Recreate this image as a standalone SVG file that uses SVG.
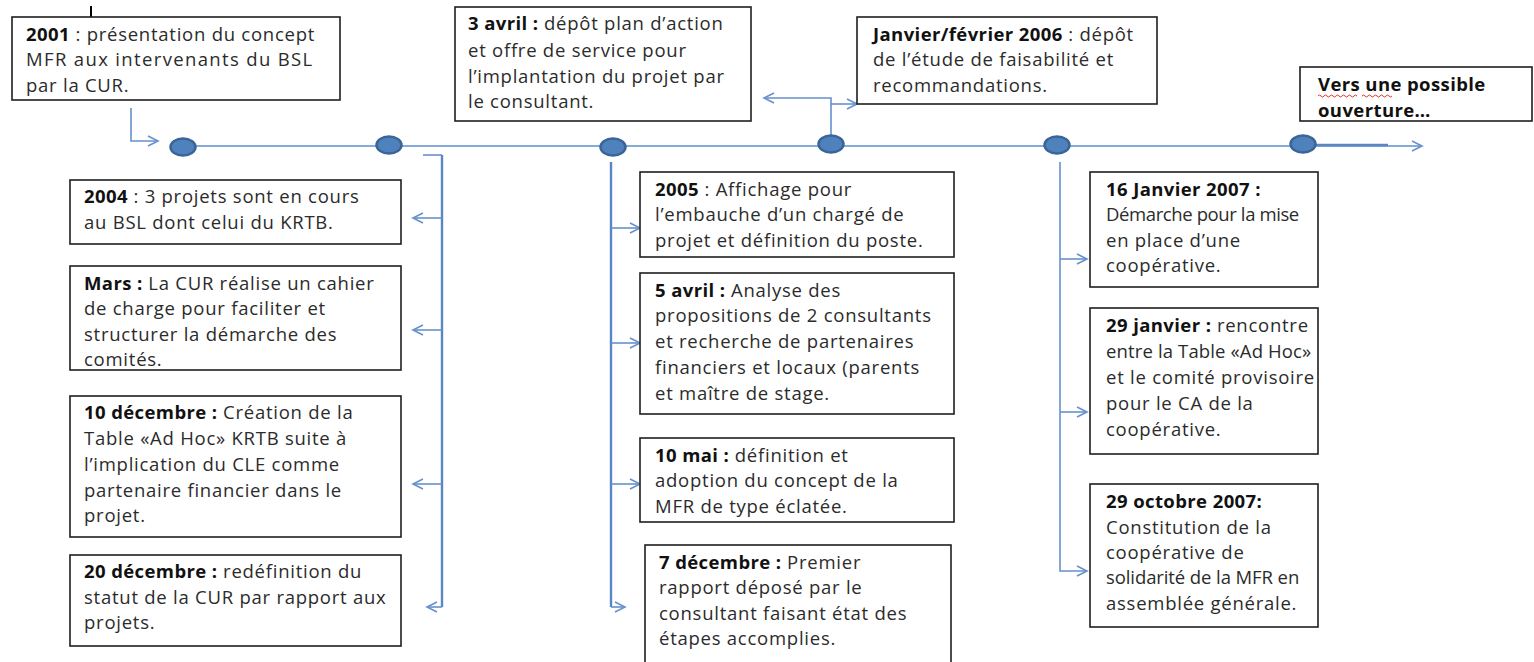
<svg xmlns="http://www.w3.org/2000/svg" width="1534" height="662" viewBox="0 0 1534 662">
  <style>
    .box { fill: #ffffff; stroke: #1f1f1f; stroke-width: 1.6; }
    .t { font-family: "Open Sans", Lato, "Liberation Sans", sans-serif; font-size: 18.5px; letter-spacing: 0.75px; fill: #2b2b2b; }
    .b { font-weight: bold; fill: #111111; letter-spacing: 0.4px; }
    .conn { fill: none; stroke: #6691cc; stroke-width: 1.6; }
    .spine { fill: none; stroke: #5a86c4; stroke-width: 2.4; }
    .axis { fill: none; stroke: #86aadb; stroke-width: 2.2; }
    .dot { fill: #4f81bd; stroke: #3a6598; stroke-width: 2.5; }
  </style>
  <defs>
    <marker id="open" markerUnits="userSpaceOnUse" markerWidth="14" markerHeight="14" refX="11" refY="6" orient="auto">
      <path d="M1,1 L11,6 L1,11" fill="none" stroke="#6691cc" stroke-width="1.6"/>
    </marker>
  </defs>
  <rect width="1534" height="662" fill="#ffffff"/>

  <!-- connectors -->
  <g id="connectors">
    <path class="axis" d="M183,146 H1422" marker-end="url(#open)"/>
    <path class="spine" d="M1310,145 H1388"/>
    <path class="conn" d="M131,108 V141 H158" marker-end="url(#open)"/>
    <!-- 2004 branch -->
    <path class="conn" d="M423,155 H442"/>
    <path class="spine" d="M442,155 V607"/>
    <path class="conn" d="M442,607 H427" marker-end="url(#open)"/>
    <path class="conn" d="M442,218 H413" marker-end="url(#open)"/>
    <path class="conn" d="M442,330 H413" marker-end="url(#open)"/>
    <path class="conn" d="M442,484 H413" marker-end="url(#open)"/>
    <!-- 2005 branch -->
    <path class="spine" d="M611,162 V607"/>
    <path class="conn" d="M611,607 H625" marker-end="url(#open)"/>
    <path class="conn" d="M611,228 H640" marker-end="url(#open)"/>
    <path class="conn" d="M611,343 H640" marker-end="url(#open)"/>
    <path class="conn" d="M611,484 H640" marker-end="url(#open)"/>
    <!-- 2006 fork -->
    <path class="conn" d="M831,136 V98 H764" marker-end="url(#open)"/>
    <path class="conn" d="M831,104 H857" marker-end="url(#open)"/>
    <!-- 2007 branch -->
    <path class="conn" d="M1060,162 V571 H1087" marker-end="url(#open)"/>
    <path class="conn" d="M1060,259 H1087" marker-end="url(#open)"/>
    <path class="conn" d="M1060,412 H1087" marker-end="url(#open)"/>
  </g>

  <!-- timeline points -->
  <g id="points">
    <ellipse class="dot" cx="183" cy="147" rx="12.5" ry="8.5"/>
    <ellipse class="dot" cx="389" cy="145" rx="12.5" ry="8.5"/>
    <ellipse class="dot" cx="613" cy="147" rx="12.5" ry="8.5"/>
    <ellipse class="dot" cx="831" cy="144" rx="12.5" ry="8.5"/>
    <ellipse class="dot" cx="1057" cy="145" rx="12.5" ry="8.5"/>
    <ellipse class="dot" cx="1303" cy="144" rx="12.5" ry="8.5"/>
  </g>

  <!-- text cursor -->
  <line x1="91" y1="6" x2="91" y2="30" stroke="#000000" stroke-width="2"/>

  <g id="n2001">
    <rect class="box" x="12" y="17" width="328" height="83"/>
    <text class="t" x="26" y="41"><tspan class="b">2001</tspan>  : présentation du concept</text>
    <text class="t" x="26" y="66" textLength="287" lengthAdjust="spacing">MFR aux intervenants du BSL</text>
    <text class="t" x="26" y="92">par la CUR.</text>
  </g>

  <g id="n3avril">
    <rect class="box" x="455" y="7" width="296" height="114"/>
    <text class="t" x="468" y="30"><tspan class="b">3 avril :</tspan> dépôt plan d’action</text>
    <text class="t" x="468" y="57">et offre de service pour</text>
    <text class="t" x="468" y="83">l’implantation du projet par</text>
    <text class="t" x="468" y="108">le consultant.</text>
  </g>

  <g id="n2006">
    <rect class="box" x="857" y="17" width="300" height="87"/>
    <text class="t" x="873" y="41"><tspan class="b">Janvier/février 2006</tspan> : dépôt</text>
    <text class="t" x="873" y="66">de l’étude de faisabilité et</text>
    <text class="t" x="873" y="92">recommandations.</text>
  </g>

  <g id="nouverture">
    <rect class="box" x="1300" y="67" width="232" height="54"/>
    <path d="M1318,96 q1.5,-2 3,0 t3,0 t3,0 t3,0 t3,0 t3,0 t3,0 t3,0 t3,0 t3,0 t3,0 t3,0 t3,0 M1362,96 q1.5,-2 3,0 t3,0 t3,0 t3,0 t3,0 t3,0 t3,0 t3,0 t3,0 t3,0" fill="none" stroke="#e03030" stroke-width="1"/>
    <text class="t b" x="1318" y="91">Vers une possible</text>
    <text class="t b" x="1318" y="117">ouverture…</text>
  </g>

  <g id="n2004">
    <rect class="box" x="70" y="180" width="331" height="64"/>
    <text class="t" x="84" y="203"><tspan class="b">2004</tspan>  : 3 projets sont en cours</text>
    <text class="t" x="84" y="229">au BSL dont celui du KRTB.</text>
  </g>

  <g id="nmars">
    <rect class="box" x="70" y="266" width="331" height="104"/>
    <text class="t" x="84" y="290"><tspan class="b">Mars :</tspan> La CUR réalise un cahier</text>
    <text class="t" x="84" y="315">de charge pour faciliter et</text>
    <text class="t" x="84" y="341">structurer la démarche des</text>
    <text class="t" x="84" y="366">comités.</text>
  </g>

  <g id="n10dec">
    <rect class="box" x="70" y="396" width="331" height="141"/>
    <text class="t" x="84" y="419"><tspan class="b">10 décembre :</tspan> Création de la</text>
    <text class="t" x="84" y="445">Table «Ad Hoc» KRTB suite à</text>
    <text class="t" x="84" y="471">l’implication du CLE comme</text>
    <text class="t" x="84" y="497">partenaire financier dans le</text>
    <text class="t" x="84" y="522">projet.</text>
  </g>

  <g id="n20dec">
    <rect class="box" x="70" y="555" width="331" height="91"/>
    <text class="t" x="84" y="578"><tspan class="b">20 décembre :</tspan> redéfinition du</text>
    <text class="t" x="84" y="604">statut de la CUR par rapport aux</text>
    <text class="t" x="84" y="629">projets.</text>
  </g>

  <g id="n2005">
    <rect class="box" x="640" y="172" width="314" height="85"/>
    <text class="t" x="655" y="196"><tspan class="b">2005</tspan>  : Affichage pour</text>
    <text class="t" x="655" y="221">l’embauche d’un chargé de</text>
    <text class="t" x="655" y="247">projet et définition du poste.</text>
  </g>

  <g id="n5avril">
    <rect class="box" x="640" y="273" width="314" height="141"/>
    <text class="t" x="655" y="297"><tspan class="b">5 avril :</tspan> Analyse des</text>
    <text class="t" x="655" y="322">propositions de 2 consultants</text>
    <text class="t" x="655" y="348">et recherche de partenaires</text>
    <text class="t" x="655" y="374">financiers et locaux (parents</text>
    <text class="t" x="655" y="400">et maître de stage.</text>
  </g>

  <g id="n10mai">
    <rect class="box" x="640" y="438" width="314" height="84"/>
    <text class="t" x="655" y="462"><tspan class="b">10 mai :</tspan> définition et</text>
    <text class="t" x="655" y="487">adoption du concept de la</text>
    <text class="t" x="655" y="513">MFR de type éclatée.</text>
  </g>

  <g id="n7dec">
    <rect class="box" x="645" y="545" width="306" height="122"/>
    <text class="t" x="659" y="569"><tspan class="b">7 décembre :</tspan> Premier</text>
    <text class="t" x="659" y="594">rapport déposé par le</text>
    <text class="t" x="659" y="620">consultant faisant état des</text>
    <text class="t" x="659" y="645">étapes accomplies.</text>
  </g>

  <g id="n16jan">
    <rect class="box" x="1090" y="172" width="228" height="115"/>
    <text class="t b" x="1106" y="196">16 Janvier 2007  :</text>
    <text class="t" x="1106" y="221" textLength="194" lengthAdjust="spacing">Démarche pour la mise</text>
    <text class="t" x="1106" y="247">en place d’une</text>
    <text class="t" x="1106" y="272">coopérative.</text>
  </g>

  <g id="n29jan">
    <rect class="box" x="1090" y="308" width="228" height="146"/>
    <text class="t" x="1106" y="332"><tspan class="b">29 janvier :</tspan> rencontre</text>
    <text class="t" x="1106" y="358" textLength="206" lengthAdjust="spacing">entre la Table «Ad Hoc»</text>
    <text class="t" x="1106" y="384">et le comité provisoire</text>
    <text class="t" x="1106" y="410">pour le CA de la</text>
    <text class="t" x="1106" y="436">coopérative.</text>
  </g>

  <g id="n29oct">
    <rect class="box" x="1090" y="484" width="228" height="143"/>
    <text class="t b" x="1106" y="508">29 octobre 2007:</text>
    <text class="t" x="1106" y="534">Constitution de la</text>
    <text class="t" x="1106" y="559">coopérative de</text>
    <text class="t" x="1106" y="584" textLength="194" lengthAdjust="spacing">solidarité de la MFR en</text>
    <text class="t" x="1106" y="610">assemblée générale.</text>
  </g>
</svg>
